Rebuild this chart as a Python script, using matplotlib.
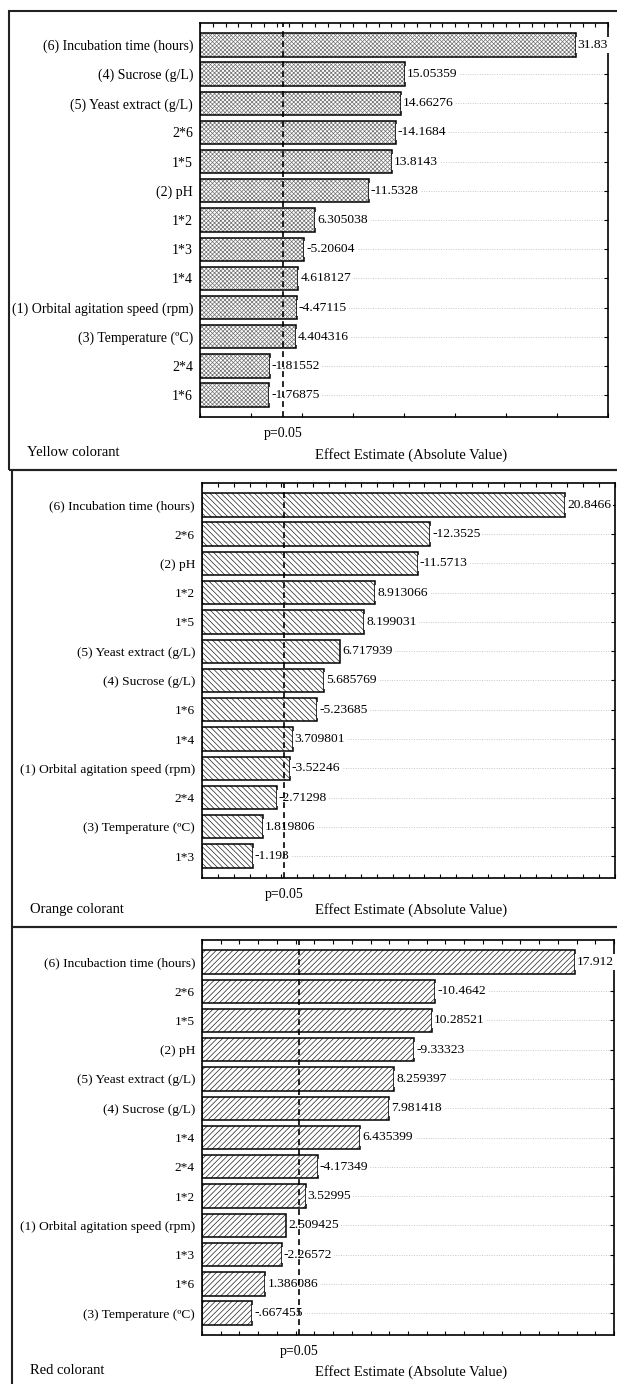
import numpy as np
import matplotlib
matplotlib.use("Agg")
import matplotlib.pyplot as plt
from matplotlib.patches import Rectangle
from matplotlib.ticker import MultipleLocator

plt.rcParams['font.family'] = ['Liberation Serif', 'DejaVu Serif']
plt.rcParams['hatch.linewidth'] = 0.5

# Pareto effects, sorted as drawn (top to bottom)
yellow_terms = ['(6) Incubation time (hours)', '(4) Sucrose (g/L)', '(5) Yeast extract (g/L)',
                '2*6', '1*5', '(2) pH', '1*2', '1*3', '1*4',
                '(1) Orbital agitation speed (rpm)', '(3) Temperature (ºC)', '2*4', '1*6']
yellow_effects = [31.83, 15.05359, 14.66276, -14.1684, 13.8143, -11.5328, 6.305038,
                  -5.20604, 4.618127, -4.47115, 4.404316, -1.81552, -1.76875]

orange_terms = ['(6) Incubation time (hours)', '2*6', '(2) pH', '1*2', '1*5',
                '(5) Yeast extract (g/L)', '(4) Sucrose (g/L)', '1*6', '1*4',
                '(1) Orbital agitation speed (rpm)', '2*4', '(3) Temperature (ºC)', '1*3']
orange_effects = [20.8466, -12.3525, -11.5713, 8.913066, 8.199031, 6.717939, 5.685769,
                  -5.23685, 3.709801, -3.52246, -2.71298, 1.819806, -1.193]

red_terms = ['(6) Incubaction time (hours)', '2*6', '1*5', '(2) pH', '(5) Yeast extract (g/L)',
             '(4) Sucrose (g/L)', '1*4', '2*4', '1*2', '(1) Orbital agitation speed (rpm)',
             '1*3', '1*6', '(3) Temperature (ºC)']
red_effects = [17.912, -10.4642, 10.28521, -9.33323, 8.259397, 7.981418, 6.435399,
               -4.17349, 3.52995, 2.509425, -2.26572, 1.386086, -.667455]

panel_names = ['Yellow colorant', 'Orange colorant', 'Red colorant']
p_crit = 3.182  # t(0.025, 3)

W, H = 617, 1384
fig = plt.figure(figsize=(W / 100, H / 100), dpi=100)


def fx(x):
    return x / W


def fy(y):
    return 1 - y / H


def fmt(v):
    s = '%.7g' % v
    return s.replace('0.', '.', 1) if s.lstrip('-').startswith('0.') else s


def pareto(box, terms, effects, xlo, xhi, major, minor, hatch, hcol, fs):
    l, r, t, b = box
    ax = fig.add_axes([fx(l), fy(b), fx(r - l), (b - t) / H])
    eff = np.abs(np.array(effects))
    pos = np.arange(len(terms))
    # hatch layer takes its colour from the edge, so outline separately
    ax.barh(pos, eff - xlo, left=xlo, height=0.8, color='white', edgecolor=hcol,
            linewidth=0, hatch=hatch, zorder=2)
    ax.barh(pos, eff - xlo, left=xlo, height=0.8, fill=False, edgecolor='black',
            linewidth=1.1, zorder=3)
    for p, v, raw in zip(pos, eff, effects):
        ax.annotate(fmt(raw), (v, p), xytext=(1.5, 0), textcoords='offset points',
                    va='center', ha='left', fontsize=9.7, zorder=4,
                    bbox=dict(boxstyle='square,pad=0.15', fc='white', ec='none'))
    ax.axvline(p_crit, color='black', linestyle=(0, (3.5, 2.5)), linewidth=1.2, zorder=5)
    ax.set_xlim(xlo, xhi)
    ax.set_ylim(len(terms) - 0.25, -0.75)
    ax.set_yticks(pos)
    ax.set_yticklabels(terms, fontsize=fs)
    ax.xaxis.set_major_locator(MultipleLocator(major))
    ax.xaxis.set_minor_locator(MultipleLocator(minor))
    ax.set_xticklabels([])
    ax.tick_params(axis='both', which='major', direction='in', length=3, width=0.8,
                   top=True, right=True, pad=5)
    ax.tick_params(axis='x', which='minor', direction='in', length=3, width=0.8,
                   top=True, bottom=False)
    ax.tick_params(axis='y', which='minor', left=False, right=False)
    ax.grid(axis='y', linestyle=(0, (1, 1.5)), color='#c8c8c8', linewidth=0.7, zorder=0)
    ax.set_axisbelow(True)
    for s in ax.spines.values():
        s.set_linewidth(1.2)
    ax.text(p_crit, -0.042, 'p=0.05', transform=ax.get_xaxis_transform(),
            ha='center', va='center', fontsize=10)
    return ax


boxes = [(200, 608, 23, 417), (202, 615, 483, 878), (202, 614, 940, 1335)]
pareto(boxes[0], yellow_terms, yellow_effects, -5, 35, 5, 1.25, 'xxxxxxxx', '#707070', 10)
pareto(boxes[1], orange_terms, orange_effects, -2, 24, 1, 1, '\\' * 6, '#222222', 9.6)
pareto(boxes[2], red_terms, red_effects, -2, 20, 1, 1, '/' * 6, '#222222', 9.6)

# panel frames and captions
frames = [(9, 11, 470), (12, 470, 927), (12, 927, 1400)]
name_y = [452, 910, 1370]
label_y = [455, 910, 1372]
for (x0, y0, y1), name, ny, ly in zip(frames, panel_names, name_y, label_y):
    fig.add_artist(Rectangle((fx(x0), fy(y1)), fx(W + 20 - x0), (y1 - y0) / H,
                             transform=fig.transFigure, fill=False,
                             edgecolor='#222222', linewidth=1.5))
    fig.text(fx(x0 + 18), fy(ny), name, fontsize=10.5, va='center', ha='left')
    fig.text(fx(411), fy(ly), 'Effect Estimate (Absolute Value)', fontsize=10.5,
             va='center', ha='center')

fig.savefig('out.png', dpi=100)
